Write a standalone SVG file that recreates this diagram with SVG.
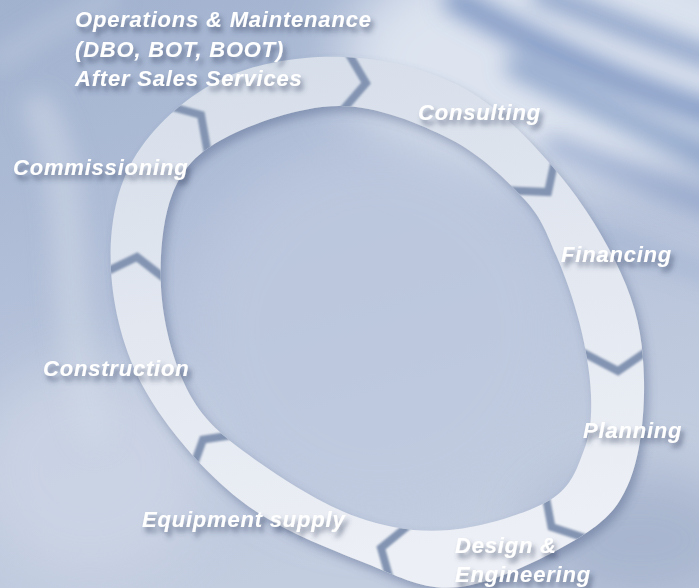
<svg xmlns="http://www.w3.org/2000/svg" width="699" height="588" viewBox="0 0 699 588">
  <defs>
    <style>
      .lbl { font-family: "Liberation Sans", Arial, Helvetica, sans-serif; font-weight: bold; font-style: italic; font-size: 22px; letter-spacing: 0.8px; fill: #ffffff; filter: url(#txtShadow); }
      .gap { fill: none; stroke: #8394b2; stroke-width: 8; stroke-linejoin: miter; stroke-linecap: butt; }
      .streak { fill: none; stroke-linecap: round; }
    </style>

    <linearGradient id="bgBase" x1="0" y1="0" x2="0.35" y2="1">
      <stop offset="0" stop-color="#a1b2cf"/>
      <stop offset="0.45" stop-color="#b2bfd8"/>
      <stop offset="1" stop-color="#c3cde0"/>
    </linearGradient>
    <linearGradient id="ringFill" x1="0" y1="0" x2="0.2" y2="1">
      <stop offset="0" stop-color="#d5dde9"/>
      <stop offset="0.5" stop-color="#e2e7f0"/>
      <stop offset="1" stop-color="#eceff5"/>
    </linearGradient>

    <filter id="soft" filterUnits="userSpaceOnUse" x="-100" y="-100" width="900" height="800">
      <feGaussianBlur stdDeviation="11"/>
    </filter>
    <filter id="haze" filterUnits="userSpaceOnUse" x="-100" y="-100" width="900" height="800">
      <feGaussianBlur stdDeviation="28"/>
    </filter>
    <filter id="txtShadow" x="-10%" y="-40%" width="125%" height="200%">
      <feGaussianBlur in="SourceAlpha" stdDeviation="2.5"/>
      <feOffset dx="3" dy="5" result="off"/>
      <feFlood flood-color="#3a4766" flood-opacity="0.6"/>
      <feComposite in2="off" operator="in"/>
      <feMerge>
        <feMergeNode/>
        <feMergeNode in="SourceGraphic"/>
      </feMerge>
    </filter>
    <filter id="ringShadow" filterUnits="userSpaceOnUse" x="60" y="20" width="640" height="600">
      <feGaussianBlur in="SourceAlpha" stdDeviation="5"/>
      <feOffset dx="4" dy="6" result="off"/>
      <feFlood flood-color="#52648a" flood-opacity="0.45"/>
      <feComposite in2="off" operator="in"/>
      <feMerge>
        <feMergeNode/>
        <feMergeNode in="SourceGraphic"/>
      </feMerge>
    </filter>
    <filter id="gapBlur" filterUnits="userSpaceOnUse" x="60" y="20" width="640" height="600">
      <feGaussianBlur stdDeviation="0.9"/>
    </filter>

    <!-- ring band: outer outline followed by inner outline, filled even-odd -->
    <path id="ringPath" fill-rule="evenodd" d="M343,57 C383.8,58.5 428.5,68.8 465,89 C501.5,109.2 535.2,145.3 562,178 C588.8,210.7 612.3,251.3 626,285 C639.7,318.7 643.3,347.5 644,380 C644.7,412.5 640.7,453.8 630,480 C619.3,506.2 608.3,519.2 580,537 C551.7,554.8 495.8,582.7 460,587 C424.2,591.3 401.7,577.5 365,563 C328.3,548.5 276.7,528.8 240,500 C203.3,471.2 166.5,428.3 145,390 C123.5,351.7 113,308.3 111,270 C109,231.7 114.8,191.7 133,160 C151.2,128.3 185,97.2 220,80 C255,62.8 302.2,55.5 343,57 Z M340,106 C377.5,106.2 419.2,123.3 450,139 C480.8,154.7 507.3,180.7 525,200 C542.7,219.3 546.8,234.2 556,255 C565.2,275.8 574.2,301.7 580,325 C585.8,348.3 590.3,374.2 591,395 C591.7,415.8 590.8,432.5 584,450 C577.2,467.5 572.3,486.7 550,500 C527.7,513.3 482.2,527.2 450,530 C417.8,532.8 388.7,528.2 357,517 C325.3,505.8 287.3,482.5 260,463 C232.7,443.5 209.3,427.2 193,400 C176.7,372.8 165.5,334.2 162,300 C158.5,265.8 161.5,222 172,195 C182.5,168 197,152.8 225,138 C253,123.2 302.5,105.8 340,106 Z"/>
    <clipPath id="ringClip">
      <use href="#ringPath" clip-rule="evenodd"/>
    </clipPath>
  </defs>

  <!-- backdrop -->
  <g id="backdrop">
    <rect x="0" y="0" width="699" height="588" fill="url(#bgBase)"/>
    <ellipse cx="560" cy="60" rx="220" ry="120" fill="#dde4f0" filter="url(#haze)"/>
    <ellipse cx="380" cy="330" rx="190" ry="190" fill="#bfcae0" opacity="0.7" filter="url(#haze)"/>
    <ellipse cx="90" cy="470" rx="120" ry="110" fill="#cdd6e6" opacity="0.8" filter="url(#haze)"/>
    <ellipse cx="640" cy="540" rx="110" ry="70" fill="#a2b0cb" opacity="0.8" filter="url(#haze)"/>
    <g filter="url(#soft)">
      <path class="streak" d="M455,0 C500,25 560,55 620,80 C650,92 680,104 715,114" stroke="#5b79b1" stroke-width="24" opacity="0.75"/>
      <path class="streak" d="M540,-6 C580,8 630,30 715,60" stroke="#5473ad" stroke-width="18" opacity="0.7"/>
      <path class="streak" d="M515,66 C560,88 610,112 715,160" stroke="#6381b5" stroke-width="20" opacity="0.7"/>
      <path class="streak" d="M552,144 C600,162 650,182 715,207" stroke="#7089bb" stroke-width="17" opacity="0.6"/>
      <path class="streak" d="M600,236 C640,249 675,263 715,276" stroke="#8ba1c8" stroke-width="15" opacity="0.45"/>
      <path class="streak" d="M40,110 C85,200 55,300 95,430" stroke="#cfd8e7" stroke-width="34" opacity="0.55"/>
      <path class="streak" d="M0,60 C30,40 60,20 110,0" stroke="#c3cee2" stroke-width="20" opacity="0.5"/>
    </g>
  </g>

  <!-- cycle of chevron arrows -->
  <g id="cycle-arrows" filter="url(#ringShadow)">
    <use href="#ringPath" fill="url(#ringFill)"/>
    <g clip-path="url(#ringClip)" filter="url(#gapBlur)">
      <polyline class="gap" points="347,51 366,83 341,112"/>
      <polyline class="gap" points="556,155 548,192 500,190"/>
      <polyline class="gap" points="648,350.5 618,371 580,351"/>
      <polyline class="gap" points="585,538 551.5,527 545,492.5"/>
      <polyline class="gap" points="391,583 381,548 409,525"/>
      <polyline class="gap" points="191.6,471 203,439.6 240,434"/>
      <polyline class="gap" points="106,272 137,257 164,278"/>
      <polyline class="gap" points="165,105 201,115 208,154"/>
    </g>
  </g>

  <!-- stage labels -->
  <g id="stage-operations">
    <text class="lbl" x="75" y="27">Operations &amp; Maintenance</text>
    <text class="lbl" x="75" y="56.5">(DBO, BOT, BOOT)</text>
    <text class="lbl" x="75" y="86">After Sales Services</text>
  </g>
  <g id="stage-consulting">
    <text class="lbl" x="418" y="120">Consulting</text>
  </g>
  <g id="stage-financing">
    <text class="lbl" x="561" y="262">Financing</text>
  </g>
  <g id="stage-planning">
    <text class="lbl" x="583" y="438">Planning</text>
  </g>
  <g id="stage-design">
    <text class="lbl" x="455" y="553">Design &amp;</text>
    <text class="lbl" x="455" y="582">Engineering</text>
  </g>
  <g id="stage-equipment">
    <text class="lbl" x="142" y="527">Equipment supply</text>
  </g>
  <g id="stage-construction">
    <text class="lbl" x="43" y="376">Construction</text>
  </g>
  <g id="stage-commissioning">
    <text class="lbl" x="13" y="175">Commissioning</text>
  </g>
</svg>
